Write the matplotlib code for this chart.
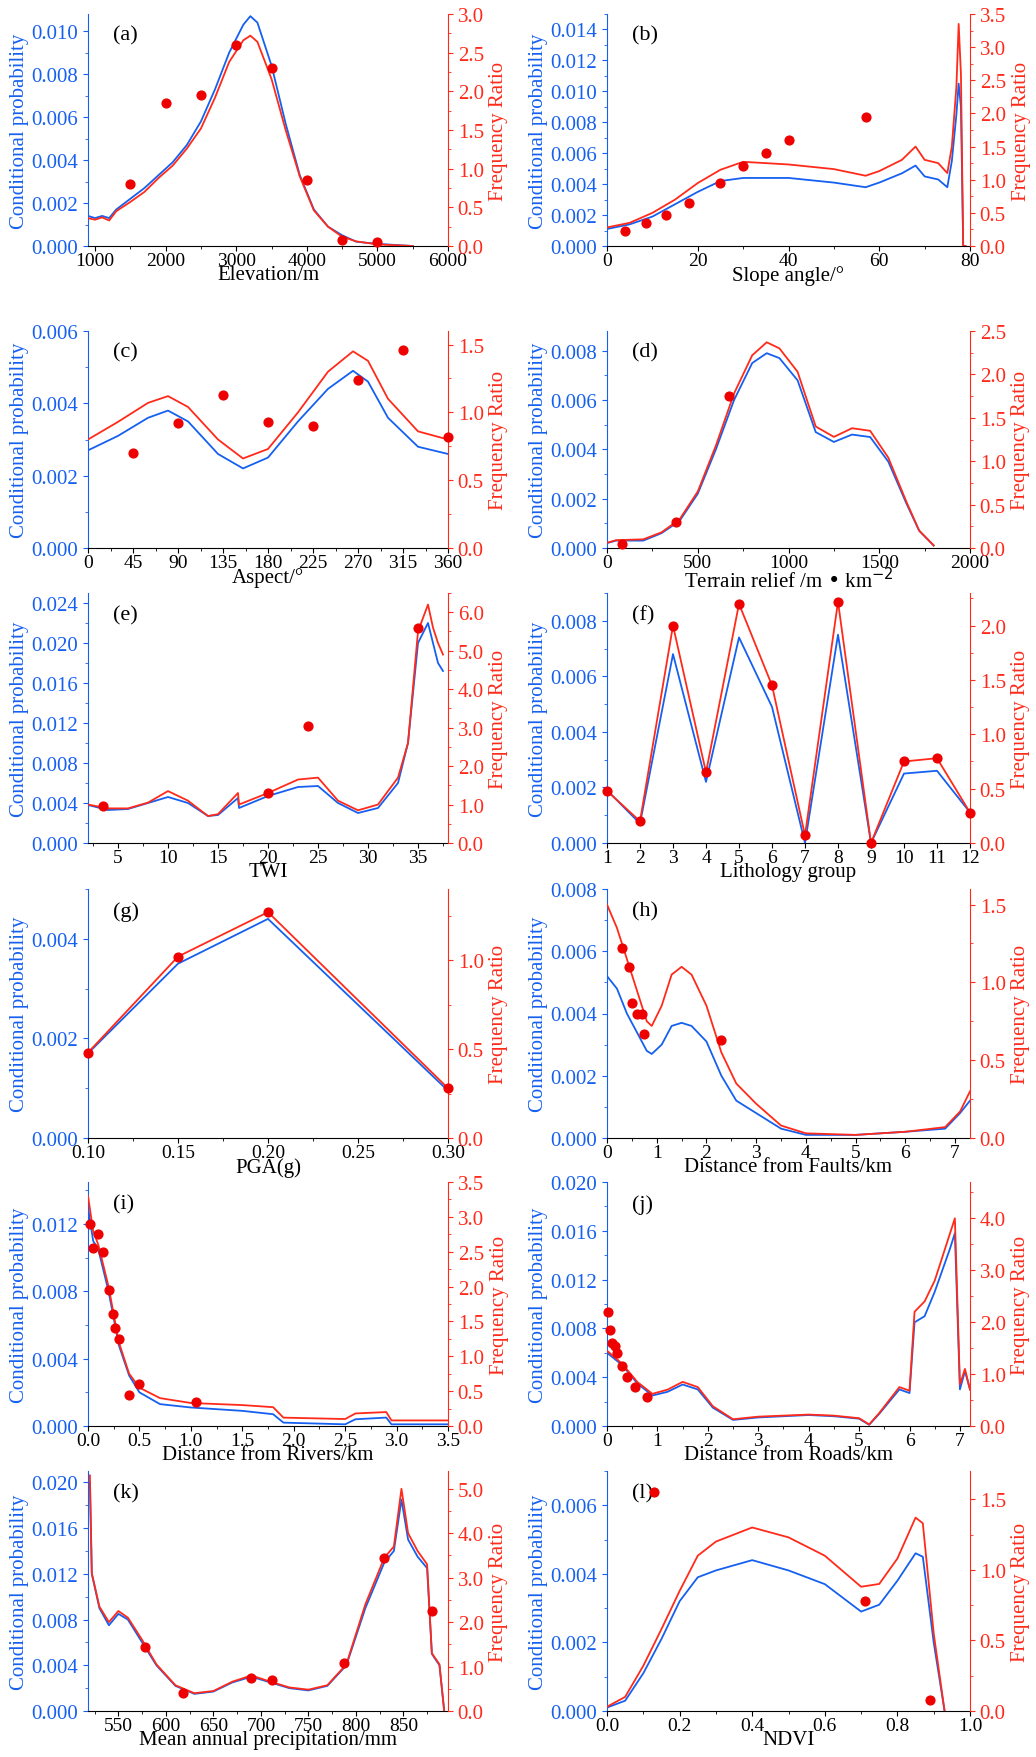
import matplotlib
matplotlib.use("Agg")
import matplotlib.pyplot as plt
from matplotlib.ticker import AutoMinorLocator, MultipleLocator

plt.rcParams['font.family'] = ['Liberation Serif', 'DejaVu Serif']
BLUE = '#1560f0'
RED = '#ff2a1a'

# (a) Elevation
a_x = [900,1000,1100,1200,1300,1500,1700,1900,2100,2300,2500,2700,2900,3100,3200,3300,3500,3700,3900,4100,4300,4500,4700,5000,5500]
a_cp = [0.0014,0.0013,0.0014,0.0013,0.0017,0.0022,0.0027,0.0033,0.0039,0.0047,0.0058,0.0073,0.0090,0.0103,0.0107,0.0104,0.0084,0.0057,0.0033,0.0017,0.0009,0.0005,0.0002,0.0001,0.0]
a_fr = [0.36,0.34,0.37,0.33,0.45,0.57,0.70,0.88,1.04,1.26,1.52,1.92,2.38,2.66,2.72,2.64,2.16,1.50,0.90,0.46,0.25,0.12,0.06,0.02,0.0]
a_px = [1500,2000,2500,3000,3500,4000,4500,5000]
a_py = [0.80,1.85,1.95,2.60,2.30,0.85,0.08,0.05]

# (b) Slope angle
b_x = [0,5,10,15,20,25,30,40,50,57,60,65,68,70,73,75,76,77,77.5,78,78.5,79]
b_cp = [0.0011,0.0014,0.0019,0.0027,0.0035,0.0042,0.0044,0.0044,0.0041,0.0038,0.0041,0.0047,0.0052,0.0045,0.0043,0.0038,0.0055,0.0085,0.0105,0.0090,0.0,0.0]
b_fr = [0.28,0.35,0.50,0.70,0.95,1.15,1.27,1.23,1.16,1.06,1.13,1.30,1.50,1.30,1.25,1.10,1.50,2.40,3.35,2.60,0.0,0.0]
b_px = [4,8.5,13,18,25,30,35,40,57]
b_py = [0.22,0.35,0.47,0.65,0.95,1.20,1.40,1.60,1.95]

# (c) Aspect
c_x = [0,30,60,80,100,130,155,180,210,240,265,280,300,330,360]
c_cp = [0.0027,0.0031,0.0036,0.0038,0.0035,0.0026,0.0022,0.0025,0.0035,0.0044,0.0049,0.0046,0.0036,0.0028,0.0026]
c_fr = [0.80,0.93,1.07,1.12,1.04,0.80,0.66,0.73,1.00,1.30,1.45,1.38,1.10,0.86,0.80]
c_px = [45,90,135,180,225,270,315,360]
c_py = [0.70,0.92,1.13,0.93,0.90,1.24,1.46,0.82]

# (d) Terrain relief
d_x = [0,50,200,300,400,500,600,700,800,880,950,1050,1150,1250,1350,1450,1550,1650,1720,1800]
d_cp = [0.0002,0.0003,0.0003,0.0006,0.0011,0.0022,0.0040,0.0060,0.0075,0.0079,0.0077,0.0068,0.0047,0.0043,0.0046,0.0045,0.0035,0.0018,0.0007,0.0001]
d_fr = [0.06,0.09,0.10,0.18,0.33,0.65,1.18,1.78,2.22,2.37,2.30,2.03,1.40,1.28,1.38,1.35,1.04,0.53,0.20,0.03]
d_px = [80,380,670]
d_py = [0.05,0.30,1.75]

# (e) TWI
e_x = [2,4,6,8,10,12,14,15,17,17.1,20,23,25,27,29,31,33,34,35,36,36.5,37,37.5]
e_cp = [0.0038,0.0033,0.0034,0.0040,0.0046,0.0040,0.0027,0.0028,0.0045,0.0035,0.0047,0.0056,0.0057,0.0040,0.0030,0.0035,0.0060,0.0100,0.0200,0.0220,0.0200,0.0180,0.0172]
e_fr = [1.00,0.90,0.90,1.05,1.35,1.10,0.70,0.75,1.30,1.00,1.30,1.65,1.70,1.10,0.85,1.00,1.70,2.60,5.50,6.20,5.60,5.20,4.90]
e_px = [3.5,20,24,35]
e_py = [0.95,1.30,3.05,5.60]

# (f) Lithology group
f_x = [1,2,3,4,5,6,7,8,9,10,11,12]
f_cp = [0.0019,0.0007,0.0068,0.0022,0.0074,0.0049,0.0000,0.0075,0.0000,0.0025,0.0026,0.0011]
f_fr = [0.48,0.20,2.00,0.65,2.20,1.45,0.07,2.22,0.00,0.75,0.78,0.28]

# (g) PGA
g_x = [0.10,0.15,0.20,0.30]
g_cp = [0.0017,0.0035,0.0044,0.00095]
g_fr = [0.48,1.02,1.27,0.28]

# (h) Distance from faults
h_x = [0,0.2,0.4,0.6,0.8,0.9,1.1,1.3,1.5,1.7,2.0,2.3,2.6,3.0,3.5,4.0,5.0,6.0,6.8,7.1,7.3]
h_cp = [0.0052,0.0048,0.0040,0.0034,0.0028,0.0027,0.0030,0.0036,0.0037,0.0036,0.0031,0.0020,0.0012,0.0008,0.0003,0.0001,0.0001,0.0002,0.0003,0.0008,0.0012]
h_fr = [1.50,1.35,1.15,0.95,0.75,0.72,0.85,1.05,1.10,1.05,0.85,0.55,0.35,0.22,0.08,0.03,0.02,0.04,0.07,0.17,0.30]
h_px = [0.3,0.45,0.5,0.6,0.7,0.75,2.3]
h_py = [1.22,1.10,0.87,0.80,0.80,0.67,0.63]

# (i) Distance from rivers
i_x = [0,0.05,0.1,0.2,0.3,0.4,0.5,0.7,1.0,1.5,1.8,1.9,2.5,2.6,2.9,2.95,3.5]
i_cp = [0.0130,0.0110,0.0105,0.0080,0.0048,0.0030,0.0020,0.0013,0.0011,0.0009,0.0007,0.0002,0.0001,0.0004,0.0005,0.0001,0.0001]
i_fr = [3.30,2.80,2.60,2.00,1.20,0.75,0.55,0.40,0.33,0.30,0.27,0.12,0.10,0.18,0.20,0.08,0.08]
i_px = [0.02,0.05,0.1,0.15,0.2,0.24,0.26,0.3,0.4,0.5,1.05]
i_py = [2.90,2.55,2.75,2.50,1.95,1.60,1.40,1.25,0.45,0.60,0.35]

# (j) Distance from roads
j_x = [0,0.3,0.6,0.9,1.2,1.5,1.8,2.1,2.5,3.0,4.0,4.5,5.0,5.2,5.4,5.8,6.0,6.1,6.3,6.5,6.8,6.9,7.0,7.1,7.2]
j_cp = [0.0060,0.0050,0.0035,0.0025,0.0028,0.0034,0.0030,0.0015,0.0005,0.0007,0.0009,0.0008,0.0006,0.0001,0.0010,0.0030,0.0027,0.0085,0.0090,0.0110,0.0145,0.0158,0.0030,0.0045,0.0030]
j_fr = [1.45,1.20,0.85,0.62,0.70,0.85,0.75,0.38,0.13,0.18,0.22,0.20,0.15,0.03,0.25,0.75,0.68,2.20,2.40,2.80,3.70,4.00,0.80,1.10,0.70]
j_px = [0.02,0.05,0.1,0.15,0.2,0.3,0.4,0.55,0.8]
j_py = [2.20,1.85,1.60,1.55,1.40,1.15,0.95,0.75,0.55]

# (k) Mean annual precipitation
k_x = [520,522,530,540,550,560,575,590,610,630,650,670,690,710,730,750,770,790,810,830,840,848,855,865,875,880,888,893]
k_cp = [0.0200,0.0120,0.0090,0.0075,0.0085,0.0080,0.0060,0.0040,0.0022,0.0015,0.0017,0.0025,0.0030,0.0025,0.0020,0.0018,0.0022,0.0040,0.0090,0.0130,0.0140,0.0185,0.0150,0.0135,0.0125,0.0050,0.0040,0.0000]
k_fr = [5.30,3.10,2.35,2.00,2.25,2.10,1.60,1.05,0.58,0.40,0.45,0.66,0.80,0.66,0.53,0.48,0.58,1.05,2.40,3.45,3.70,5.00,4.00,3.60,3.30,1.30,1.05,0.00]
k_px = [578,618,690,712,788,830,880]
k_py = [1.45,0.40,0.75,0.70,1.08,3.45,2.25]

# (l) NDVI
l_x = [0,0.05,0.1,0.15,0.2,0.25,0.3,0.4,0.5,0.6,0.7,0.75,0.8,0.85,0.87,0.9,0.93]
l_cp = [0.0001,0.0003,0.0011,0.0021,0.0032,0.0039,0.0041,0.0044,0.0041,0.0037,0.0029,0.0031,0.0038,0.0046,0.0045,0.0020,0.0000]
l_fr = [0.03,0.10,0.32,0.58,0.85,1.10,1.20,1.30,1.23,1.10,0.88,0.90,1.08,1.37,1.33,0.55,0.00]
l_px = [0.13,0.71,0.89]
l_py = [1.55,0.78,0.08]

W, H = 1036, 1758
fig = plt.figure(figsize=(W/100, H/100), dpi=100)
rows = [(15,247),(332,549),(594,844),(890,1139),(1183,1427),(1472,1712)]
cols = [(88,448),(607,970)]

panels = [
 dict(lab='(a)', x=a_x, cp=a_cp, fr=a_fr, px=a_px, py=a_py, xl='Elevation/m', xlim=(900,6000), xt=MultipleLocator(1000), ylim=(0,0.0108), yt=0.002, ylim2=(0,3.0), yt2=0.5),
 dict(lab='(b)', x=b_x, cp=b_cp, fr=b_fr, px=b_px, py=b_py, xl='Slope angle/°', xlim=(0,80), xt=MultipleLocator(20), ylim=(0,0.015), yt=0.002, ylim2=(0,3.5), yt2=0.5),
 dict(lab='(c)', x=c_x, cp=c_cp, fr=c_fr, px=c_px, py=c_py, xl='Aspect/°', xlim=(0,360), xt=MultipleLocator(45), ylim=(0,0.006), yt=0.002, ylim2=(0,1.6), yt2=0.5),
 dict(lab='(d)', x=d_x, cp=d_cp, fr=d_fr, px=d_px, py=d_py, xl='Terrain relief /m • km$^{-2}$', xlim=(0,2000), xt=MultipleLocator(500), ylim=(0,0.0088), yt=0.002, ylim2=(0,2.5), yt2=0.5),
 dict(lab='(e)', x=e_x, cp=e_cp, fr=e_fr, px=e_px, py=e_py, xl='TWI', xlim=(2,38), xt=MultipleLocator(5), ylim=(0,0.025), yt=0.004, ylim2=(0,6.5), yt2=1.0),
 dict(lab='(f)', x=f_x, cp=f_cp, fr=f_fr, px=f_x, py=f_fr, xl='Lithology group', xlim=(1,12), xt=MultipleLocator(1), ylim=(0,0.009), yt=0.002, ylim2=(0,2.3), yt2=0.5),
 dict(lab='(g)', x=g_x, cp=g_cp, fr=g_fr, px=g_x, py=g_fr, xl='PGA(g)', xlim=(0.1,0.3), xt=MultipleLocator(0.05), ylim=(0,0.005), yt=0.002, ylim2=(0,1.4), yt2=0.5),
 dict(lab='(h)', x=h_x, cp=h_cp, fr=h_fr, px=h_px, py=h_py, xl='Distance from Faults/km', xlim=(0,7.3), xt=MultipleLocator(1), ylim=(0,0.008), yt=0.002, ylim2=(0,1.6), yt2=0.5),
 dict(lab='(i)', x=i_x, cp=i_cp, fr=i_fr, px=i_px, py=i_py, xl='Distance from Rivers/km', xlim=(0,3.5), xt=MultipleLocator(0.5), ylim=(0,0.0145), yt=0.004, ylim2=(0,3.5), yt2=0.5),
 dict(lab='(j)', x=j_x, cp=j_cp, fr=j_fr, px=j_px, py=j_py, xl='Distance from Roads/km', xlim=(0,7.2), xt=MultipleLocator(1), ylim=(0,0.02), yt=0.004, ylim2=(0,4.7), yt2=1.0),
 dict(lab='(k)', x=k_x, cp=k_cp, fr=k_fr, px=k_px, py=k_py, xl='Mean annual precipitation/mm', xlim=(518,897), xt=MultipleLocator(50), ylim=(0,0.021), yt=0.004, ylim2=(0,5.4), yt2=1.0),
 dict(lab='(l)', x=l_x, cp=l_cp, fr=l_fr, px=l_px, py=l_py, xl='NDVI', xlim=(0,1.0), xt=MultipleLocator(0.2), ylim=(0,0.007), yt=0.002, ylim2=(0,1.7), yt2=0.5),
]

FS = 15
for idx, p in enumerate(panels):
    r, c = divmod(idx, 2)
    x0, x1 = cols[c]; y0, y1 = rows[r]
    ax = fig.add_axes([x0/W, 1-y1/H, (x1-x0)/W, (y1-y0)/H])
    ax2 = ax.twinx()
    ax.plot(p['x'], p['cp'], color=BLUE, lw=1.3, zorder=3)
    ax2.plot(p['x'], p['fr'], color=RED, lw=1.3)
    ax2.scatter(p['px'], p['py'], s=40, color='#ee0000', zorder=5, clip_on=False)
    ax.set_xlim(*p['xlim']); ax.set_ylim(*p['ylim']); ax2.set_ylim(*p['ylim2'])
    ax.xaxis.set_major_locator(p['xt'])
    if p['lab'] != '(f)':
        ax.xaxis.set_minor_locator(AutoMinorLocator(2))
    ax.yaxis.set_major_locator(MultipleLocator(p['yt']))
    ax.yaxis.set_minor_locator(AutoMinorLocator(2))
    ax2.yaxis.set_major_locator(MultipleLocator(p['yt2']))
    ax2.yaxis.set_minor_locator(AutoMinorLocator(2))
    ax.yaxis.set_major_formatter(plt.FormatStrFormatter('%.3f'))
    ax2.yaxis.set_major_formatter(plt.FormatStrFormatter('%.1f'))
    for a in (ax, ax2):
        a.spines['top'].set_visible(False)
    ax.spines['left'].set_color(BLUE); ax.spines['right'].set_visible(False)
    ax2.spines['left'].set_visible(False); ax2.spines['right'].set_color(RED)
    ax2.spines['bottom'].set_visible(False)
    ax.tick_params(axis='y', colors=BLUE, labelsize=FS, which='both')
    ax.tick_params(axis='x', labelsize=14, which='both', pad=1)
    ax2.tick_params(axis='y', colors=RED, labelsize=FS, which='both')
    if p['lab'] == '(k)':
        ax.set_xticks([550,600,650,700,750,800,850])
    ax.set_xlabel(p['xl'], fontsize=FS, labelpad=-3)
    ax.set_ylabel('Conditional probability', color=BLUE, fontsize=FS, labelpad=2)
    ax2.set_ylabel('Frequency Ratio', color=RED, fontsize=FS, labelpad=4)
    ax.text(0.07, 0.95, p['lab'], transform=ax.transAxes, fontsize=FS + 1, va='top')

fig.savefig('out.png', dpi=100)
